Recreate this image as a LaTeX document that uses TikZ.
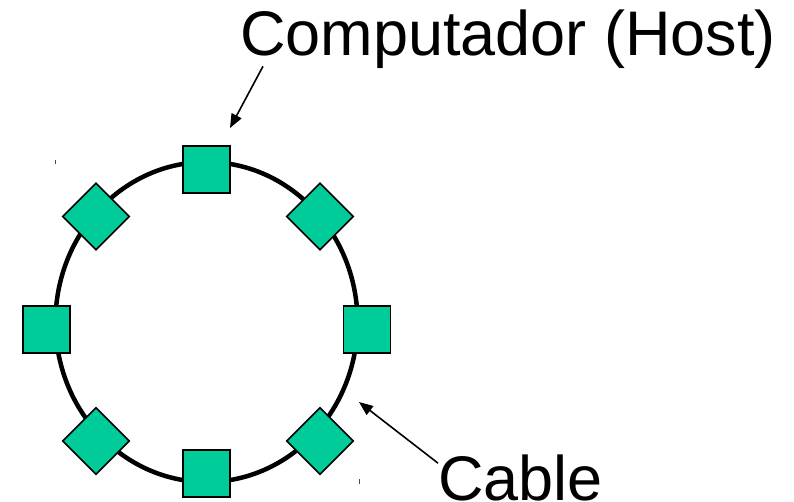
\documentclass[tikz,border=0pt]{standalone}
\usepackage{fontspec}
\setmainfont{Liberation Sans}
\usetikzlibrary{positioning, arrows.meta}
\definecolor{verdeHost}{RGB}{0,204,153}

\begin{document}
\begin{tikzpicture}[
    x=1pt, y=-1pt,
    every node/.style={font=\fontsize{63}{70}\selectfont},
    host/.style={rectangle, draw, line width=1.5pt, fill=verdeHost, minimum size=47pt, inner sep=0pt},
    hostGirado/.style={host, rotate=45},
    etiqueta/.style={anchor=base west, inner sep=0pt},
    flecha/.style={line width=1.6pt, -{Triangle[length=14pt, width=11pt]}}
  ]

  \useasboundingbox (0,0) rectangle (794,501);

  % ---------------- Anillo (cable) ----------------
  \draw[line width=4.5pt] (206.5,322) ellipse [x radius=151pt, y radius=160pt];

  % marcas sueltas
  \draw[line width=0.8pt, black!70] (55,160) -- (55,164);
  \draw[line width=0.8pt, black!70] (359,479) -- (359,484);

  % ---------------- Computadores ----------------
  \node (host1) [host] at (206.5,169.5) {};
  \node (host2) [hostGirado] at (320,216.5) {};
  \node (host3) [host] at (367,329.5) {};
  \node (host4) [hostGirado] at (320,441) {};
  \node (host5) [host] at (206.5,473.5) {};
  \node (host6) [hostGirado] at (96,441) {};
  \node (host7) [host] at (46.5,329.5) {};
  \node (host8) [hostGirado] at (96,216.5) {};

  % ---------------- Etiquetas ----------------
  \node (etiquetaHost) [etiqueta] at (240,55) {Computador (Host)};
  \node (etiquetaCable) [etiqueta] at (438,500) {Cable};

  % Flechas
  \coordinate (puntaHost) at (230,128);
  \coordinate (puntaCable) at (359,402);
  \draw[flecha] ([xshift=23pt, yshift=2pt]etiquetaHost.south west) -- (puntaHost);
  \draw[flecha] ([yshift=-9pt]etiquetaCable.north west) -- (puntaCable);

\end{tikzpicture}
\end{document}
